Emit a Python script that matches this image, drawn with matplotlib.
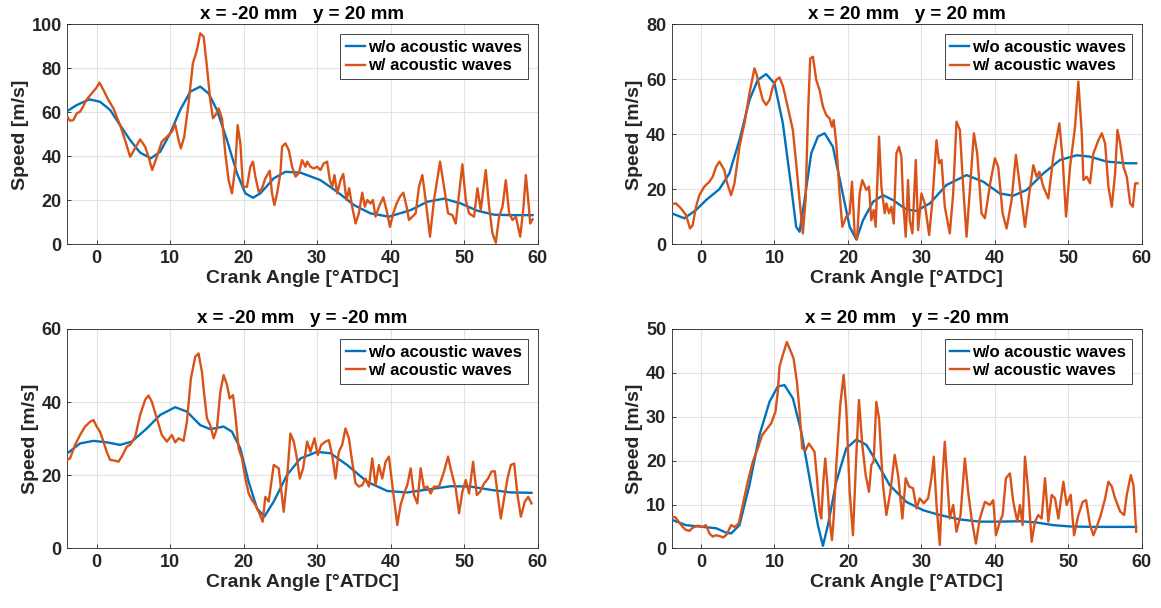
"""Speed at four probe points, with and without acoustic waves."""

import matplotlib.pyplot as plt

plt.rcParams["font.family"] = ["Liberation Sans", "DejaVu Sans"]
plt.rcParams["font.weight"] = "bold"

BLUE = "#0072BD"
ORANGE = "#D95319"
TEXT = "#262626"

# panel 1: x = -20 mm, y = 20 mm
p1_ca_wo = [-4.0, -2.73, -1.0, 0.45, 1.82, 3.18, 4.55, 5.91, 7.36, 8.64, 10.0, 11.36, 12.73,
            14.09, 15.23, 16.36, 17.73, 19.09, 20.23, 21.27, 22.27, 24.09, 25.68, 27.73, 30.45,
            32.73, 35.0, 37.27, 39.77, 42.73, 45.0, 47.27, 49.55, 51.82, 54.09, 56.36, 59.32]
p1_wo = [60.6, 63.3, 65.9, 64.8, 61.1, 54.2, 47.4, 41.7, 39.1, 42.1, 50.5, 61.1, 69.4,
         71.7, 68.6, 61.1, 47.4, 32.3, 23.2, 21.2, 23.2, 30.0, 33.0, 32.6, 29.2,
         23.9, 17.9, 14.1, 12.6, 15.6, 19.4, 20.8, 18.6, 15.3, 13.5, 13.3, 13.3]
p1_ca_w = [-4.0, -3.64, -3.18, -2.73, -2.27, -1.82, -1.36, -0.68, 0.0, 0.36, 0.91, 1.59, 2.27,
           3.18, 3.86, 4.55, 5.09, 5.91, 6.59, 7.05, 7.55, 8.18, 8.86, 9.55, 10.23, 10.68,
           11.14, 11.45, 11.91, 12.5, 13.09, 13.64, 14.09, 14.55, 15.0, 15.45, 15.82, 16.18,
           16.59, 17.05, 17.5, 17.95, 18.41, 18.86, 19.18, 19.55, 19.91, 20.45, 20.91, 21.27,
           21.59, 22.05, 22.5, 22.95, 23.55, 23.86, 24.18, 24.55, 25.0, 25.23, 25.68, 26.14,
           26.59, 27.05, 27.5, 27.95, 28.41, 28.64, 29.09, 29.55, 30.0, 30.45, 30.91, 31.36,
           31.73, 32.05, 32.36, 32.73, 33.18, 33.55, 34.0, 34.36, 34.77, 35.23, 35.68, 36.14,
           36.5, 36.82, 37.27, 37.59, 37.95, 38.41, 39.0, 39.45, 39.91, 40.36, 40.82, 41.27,
           41.73, 42.18, 42.5, 42.95, 43.41, 43.86, 44.32, 44.77, 45.36, 45.91, 46.73, 47.27,
           47.82, 48.41, 48.86, 49.32, 49.77, 50.23, 50.68, 51.36, 51.82, 52.27, 52.95, 53.41,
           53.86, 54.32, 54.77, 55.23, 55.68, 56.14, 56.59, 57.05, 57.64, 58.09, 58.41, 58.73,
           59.0, 59.32]
p1_w = [58.0, 56.2, 56.5, 59.5, 60.3, 62.9, 65.9, 68.6, 71.4, 73.5, 70.2, 65.6, 61.8,
        54.2, 47.4, 39.8, 42.9, 47.7, 44.4, 39.8, 33.8, 39.8, 46.7, 48.9, 51.2, 54.5,
        47.4, 43.6, 48.9, 64.1, 82.3, 88.3, 95.9, 94.4, 80.8, 65.6, 57.3, 58.8,
        61.8, 57.3, 41.4, 29.2, 23.2, 35.3, 54.2, 45.9, 26.2, 26.2, 35.3, 37.6,
        30.8, 23.9, 25.5, 30.0, 33.5, 23.2, 17.9, 23.2, 32.3, 44.4, 45.9, 42.9,
        35.3, 30.8, 32.3, 38.3, 35.3, 37.6, 35.3, 34.5, 35.3, 33.8, 36.8, 37.6,
        29.2, 26.2, 31.5, 23.2, 29.2, 32.0, 20.2, 25.5, 17.1, 9.5, 14.1, 23.5,
        17.1, 20.2, 18.6, 20.2, 12.6, 17.1, 21.4, 15.6, 8.0, 14.1, 18.6, 21.7,
        23.5, 17.1, 11.1, 12.6, 14.1, 26.2, 31.5, 20.2, 3.5, 20.2, 37.6, 26.2,
        14.1, 13.3, 9.5, 23.2, 36.4, 20.2, 14.1, 12.6, 25.5, 15.6, 33.8, 17.1,
        5.0, 0.8, 12.6, 17.1, 29.2, 14.1, 11.1, 12.6, 3.5, 17.1, 31.5, 20.2,
        9.5, 11.4]

# panel 2: x = 20 mm, y = 20 mm
p2_ca_wo = [-4.0, -2.27, -0.68, 0.68, 2.5, 3.86, 5.23, 6.59, 7.73, 8.86, 10.0, 11.14, 12.27,
            12.95, 13.41, 14.09, 15.0, 15.91, 16.82, 17.95, 19.09, 20.23, 21.14, 22.05, 23.41,
            24.77, 26.14, 27.95, 29.32, 31.14, 33.41, 36.14, 38.41, 40.68, 42.5, 44.32, 46.59,
            48.86, 51.14, 52.95, 55.23, 57.95, 59.23]
p2_wo = [11.3, 9.5, 12.5, 16.1, 20.1, 25.8, 37.9, 52.5, 59.8, 61.9, 58.5, 44.0, 21.0,
         6.4, 4.6, 16.1, 33.1, 39.2, 40.4, 35.5, 21.0, 6.4, 1.8, 8.8, 15.5,
         17.9, 16.1, 12.7, 12.2, 14.9, 21.6, 25.2, 22.8, 18.5, 17.7, 19.8, 25.8,
         30.7, 32.4, 31.9, 30.1, 29.5, 29.5]
p2_ca_w = [-3.95, -3.41, -2.73, -2.05, -1.5, -1.14, -0.68, -0.23, 0.45, 1.14, 1.59, 2.05, 2.5,
           3.18, 3.5, 4.09, 4.55, 5.23, 5.91, 6.59, 7.05, 7.27, 7.59, 7.95, 8.41, 8.86, 9.32,
           9.77, 10.23, 10.68, 11.14, 11.59, 12.05, 12.5, 12.95, 13.41, 13.86, 14.23, 14.55,
           14.86, 15.23, 15.68, 16.14, 16.59, 17.05, 17.5, 17.82, 18.05, 18.41, 18.86, 19.23,
           19.77, 20.23, 20.55, 20.91, 21.23, 21.59, 21.95, 22.5, 22.86, 23.18, 23.5, 23.77,
           24.23, 24.55, 25.0, 25.23, 25.59, 25.91, 26.23, 26.59, 26.95, 27.27, 27.5, 27.86,
           28.18, 28.41, 28.77, 29.23, 29.55, 30.0, 30.45, 31.05, 31.5, 32.05, 32.41, 32.73,
           33.18, 33.86, 34.32, 34.77, 35.23, 35.68, 36.14, 36.68, 37.14, 37.59, 38.18, 38.64,
           39.32, 40.0, 40.45, 41.05, 41.59, 42.27, 42.86, 43.41, 44.09, 44.68, 45.23, 45.68,
           46.05, 46.59, 47.27, 47.95, 48.77, 49.23, 49.68, 50.23, 50.91, 51.36, 51.82, 52.05,
           52.5, 52.95, 53.41, 54.09, 54.55, 55.0, 55.45, 55.91, 56.36, 56.68, 57.05, 57.5,
           57.95, 58.41, 58.77, 59.09, 59.41]
p2_w = [14.7, 14.9, 13.1, 10.7, 5.8, 7.0, 13.7, 17.9, 21.0, 22.8, 24.6, 28.2, 30.1,
        27.0, 22.8, 17.9, 22.2, 35.5, 44.0, 54.9, 61.0, 64.0, 61.6, 57.3, 52.5, 50.7, 52.5,
        57.3, 59.8, 60.7, 57.6, 52.5, 47.0, 41.6, 29.5, 16.1, 4.0, 16.1, 46.4,
        67.6, 68.2, 59.8, 56.1, 50.1, 47.0, 45.8, 42.8, 45.2, 36.7, 18.5, 6.4,
        10.1, 11.3, 22.8, 4.0, 1.8, 18.5, 23.4, 19.8, 21.0, 8.8, 12.5, 6.4,
        39.2, 21.0, 11.3, 14.9, 11.3, 13.7, 7.6, 33.1, 35.5, 31.9, 16.1, 2.8,
        23.4, 8.8, 4.0, 30.7, 5.2, 18.5, 14.9, 3.4, 16.1, 37.9, 29.5, 30.7,
        13.7, 4.0, 18.5, 44.6, 41.6, 21.0, 2.8, 23.4, 40.4, 33.1, 11.3, 9.5,
        21.6, 31.3, 28.2, 11.3, 5.8, 16.1, 32.5, 21.0, 6.4, 18.5, 28.8, 24.6,
        26.4, 21.0, 16.7, 31.9, 44.0, 30.7, 10.1, 28.2, 42.8, 59.2, 40.4, 23.4,
        24.6, 22.2, 33.1, 37.9, 40.4, 36.7, 21.0, 13.7, 25.8, 41.6, 36.7, 28.2,
        24.6, 14.9, 13.7, 22.2, 22.2]

# panel 3: x = -20 mm, y = -20 mm
p3_ca_wo = [-4.0, -2.27, -0.45, 1.36, 3.18, 4.77, 6.82, 8.64, 10.68, 12.27, 14.09, 15.45, 17.27,
            18.41, 19.55, 20.68, 21.82, 22.82, 24.09, 25.91, 27.73, 30.0, 31.82, 34.09, 36.82,
            39.55, 42.27, 45.0, 48.18, 50.91, 53.64, 56.36, 59.18]
p3_wo = [26.0, 28.7, 29.4, 29.0, 28.3, 29.2, 32.8, 36.5, 38.6, 37.4, 33.7, 32.6, 33.3,
         31.9, 27.3, 18.2, 10.9, 8.7, 12.8, 20.1, 24.6, 26.4, 26.0, 22.8, 18.2,
         15.7, 15.3, 16.1, 17.0, 16.9, 16.0, 15.3, 15.2]
p3_ca_w = [-4.0, -3.64, -2.95, -2.27, -1.59, -0.91, -0.45, 0.0, 0.45, 0.91, 1.36, 1.82, 2.5,
           2.95, 3.41, 4.09, 4.55, 5.23, 5.91, 6.59, 7.05, 7.5, 8.18, 8.86, 9.55, 10.23, 10.68,
           11.14, 11.82, 12.27, 12.82, 13.41, 13.86, 14.32, 14.64, 15.0, 15.45, 15.91, 16.36,
           16.82, 17.27, 17.73, 18.09, 18.55, 18.86, 19.32, 19.77, 20.23, 20.68, 21.14, 21.59,
           22.05, 22.59, 22.95, 23.41, 24.09, 24.77, 25.45, 25.91, 26.36, 26.82, 27.18, 27.64,
           28.09, 28.64, 29.09, 29.64, 30.09, 30.55, 31.14, 31.59, 32.05, 32.5, 32.95, 33.41,
           33.86, 34.32, 34.77, 35.23, 35.68, 36.14, 36.59, 37.05, 37.5, 37.95, 38.41, 38.86,
           39.32, 39.77, 40.23, 40.91, 41.36, 41.82, 42.27, 42.73, 43.18, 43.64, 44.09, 44.55,
           45.0, 45.45, 45.91, 46.59, 47.27, 47.82, 48.27, 48.86, 49.32, 49.77, 50.23, 50.68,
           51.23, 51.73, 52.18, 52.73, 53.27, 53.73, 54.18, 54.64, 55.0, 55.45, 55.91, 56.36,
           56.82, 57.27, 57.73, 58.27, 58.73, 59.18]
p3_w = [24.2, 24.6, 28.3, 31.0, 33.3, 34.6, 35.1, 33.3, 31.9, 29.2, 26.4, 24.2, 24.0,
        23.7, 25.1, 27.8, 28.3, 30.5, 36.5, 40.6, 41.8, 40.1, 35.6, 31.0, 29.2, 31.0, 29.0,
        30.1, 29.4, 34.6, 46.5, 52.4, 53.3, 48.3, 41.9, 35.6, 33.7, 30.1, 32.8,
        42.8, 47.4, 44.7, 41.0, 41.9, 36.5, 27.3, 24.6, 19.1, 15.0, 13.2, 11.9,
        10.0, 7.3, 14.1, 12.8, 22.8, 21.9, 10.0, 19.1, 31.4, 29.2, 25.5, 19.1,
        21.9, 29.2, 26.4, 30.1, 25.5, 28.3, 29.2, 29.6, 25.5, 19.1, 26.4, 28.3,
        32.8, 30.1, 23.7, 17.8, 16.9, 17.3, 19.1, 16.9, 24.6, 17.3, 22.8, 19.1,
        23.7, 25.1, 17.3, 6.4, 11.9, 15.0, 17.3, 21.9, 14.6, 12.3, 21.9, 16.4,
        16.9, 15.0, 16.9, 16.9, 21.0, 25.1, 21.0, 16.4, 9.6, 15.5, 18.7, 15.0,
        23.7, 14.6, 15.5, 17.8, 19.1, 21.0, 21.1, 13.7, 8.2, 13.7, 19.1, 22.8,
        23.2, 14.6, 8.7, 12.8, 14.1, 12.3]

# panel 4: x = 20 mm, y = -20 mm
p4_ca_wo = [-3.95, -2.05, 0.23, 2.05, 3.41, 4.09, 5.23, 6.59, 7.95, 9.32, 10.45, 11.36, 12.5,
            13.64, 14.77, 15.91, 16.59, 17.27, 18.41, 19.77, 21.14, 22.5, 23.86, 25.68, 27.95,
            30.23, 32.5, 35.23, 37.95, 40.68, 43.41, 45.68, 47.95, 50.23, 53.41, 56.59, 59.23]
p4_wo = [6.5, 5.3, 4.9, 4.6, 3.6, 3.4, 5.3, 14.4, 25.8, 33.4, 36.9, 37.2, 34.2,
         26.6, 16.0, 5.3, 0.6, 5.3, 15.2, 22.8, 24.8, 23.6, 19.8, 14.4, 10.6,
         8.7, 7.6, 6.6, 6.1, 6.1, 6.2, 5.9, 5.3, 5.0, 4.9, 4.9, 4.9]
p4_ca_w = [-3.95, -3.5, -3.05, -2.5, -2.05, -1.59, -1.14, -0.45, 0.23, 0.68, 1.14, 1.59, 2.05,
           2.5, 3.05, 3.5, 4.09, 4.55, 5.14, 5.68, 6.36, 7.05, 7.73, 8.32, 8.86, 9.55, 10.14,
           10.45, 10.68, 11.14, 11.68, 12.14, 12.59, 13.05, 13.41, 13.77, 14.23, 14.68, 15.14,
           15.45, 15.82, 16.14, 16.36, 16.68, 16.91, 17.23, 17.5, 17.82, 18.05, 18.41, 18.95,
           19.41, 19.77, 20.23, 20.68, 21.14, 21.5, 21.95, 22.41, 22.86, 23.18, 23.5, 23.86,
           24.23, 24.77, 25.23, 25.77, 26.36, 26.82, 27.41, 27.86, 28.32, 28.86, 29.32, 29.77,
           30.32, 30.91, 31.36, 31.68, 32.05, 32.5, 32.86, 33.18, 33.5, 33.86, 34.32, 34.77,
           35.32, 35.91, 36.36, 36.82, 37.41, 37.95, 38.64, 39.32, 39.77, 40.14, 40.68, 41.05,
           41.5, 42.05, 42.5, 43.05, 43.41, 43.77, 44.09, 44.55, 45.0, 45.45, 45.91, 46.36,
           46.82, 47.27, 47.73, 48.18, 48.64, 49.32, 49.77, 50.32, 50.77, 51.36, 51.95, 52.41,
           52.95, 53.41, 53.86, 54.41, 55.0, 55.45, 55.91, 56.36, 57.05, 57.59, 57.95, 58.5,
           58.86, 59.23]
p4_w = [7.2, 7.1, 6.1, 4.9, 4.2, 4.0, 4.7, 5.2, 4.9, 5.3, 3.4, 2.7, 3.0,
        2.8, 2.5, 3.2, 5.3, 4.9, 5.7, 9.9, 15.2, 19.8, 22.8, 25.8, 27.0, 28.5, 31.2,
        35.7, 41.4, 44.1, 47.0, 45.2, 43.3, 38.0, 31.2, 22.8, 22.4, 23.9, 22.8,
        22.0, 15.2, 8.4, 6.8, 16.0, 20.5, 13.7, 6.5, 1.9, 6.8, 19.0, 32.7,
        39.5, 31.9, 12.9, 3.0, 21.3, 33.8, 23.6, 16.7, 12.9, 19.0, 19.8, 33.4,
        29.6, 14.4, 7.6, 12.9, 21.3, 16.7, 6.8, 16.0, 14.1, 13.7, 9.1, 11.4,
        10.3, 11.4, 16.0, 20.9, 9.9, 0.8, 16.0, 24.3, 16.0, 6.8, 9.9, 3.8,
        7.6, 20.5, 12.9, 6.8, 1.1, 6.8, 10.6, 9.9, 11.0, 3.0, 6.1, 7.6,
        16.0, 17.1, 10.6, 6.1, 9.9, 5.3, 20.9, 12.9, 1.5, 6.1, 7.6, 6.8,
        16.0, 6.1, 12.2, 11.4, 6.8, 15.2, 9.9, 12.2, 3.0, 7.6, 10.6, 11.0,
        5.3, 3.0, 4.9, 7.6, 11.4, 15.2, 14.1, 11.4, 8.4, 7.6, 12.2, 16.7,
        14.4, 3.8]

titles = ["x = -20 mm   y = 20 mm", "x = 20 mm   y = 20 mm",
          "x = -20 mm   y = -20 mm", "x = 20 mm   y = -20 mm"]
y_tops = [100, 80, 60, 50]
y_steps = [20, 20, 20, 10]
x_ticks = [0, 10, 20, 30, 40, 50, 60]

panels = [
    (p1_ca_wo, p1_wo, p1_ca_w, p1_w),
    (p2_ca_wo, p2_wo, p2_ca_w, p2_w),
    (p3_ca_wo, p3_wo, p3_ca_w, p3_w),
    (p4_ca_wo, p4_wo, p4_ca_w, p4_w),
]
positions = [
    [0.058, 0.598, 0.405, 0.362],
    [0.5785, 0.598, 0.405, 0.362],
    [0.058, 0.098, 0.405, 0.361],
    [0.5785, 0.098, 0.405, 0.361],
]

fig = plt.figure(figsize=(11.61, 6.08), dpi=100)
for (ca_wo, wo, ca_w, w), pos, title, ytop, ystep in zip(panels, positions, titles, y_tops, y_steps):
    ax = fig.add_axes(pos)
    ax.plot(ca_wo, wo, color=BLUE, lw=1.7, label="w/o acoustic waves", zorder=3)
    ax.plot(ca_w, w, color=ORANGE, lw=1.7, label="w/ acoustic waves", zorder=3)
    ax.set_xlim(-4, 60)
    ax.set_ylim(0, ytop)
    ax.set_xticks(x_ticks)
    ax.set_yticks(range(0, ytop + 1, ystep))
    ax.grid(True, color="#e3e3e3", lw=0.8)
    ax.set_axisbelow(True)
    ax.tick_params(direction="in", length=3, width=0.6, colors=TEXT, labelsize=13, pad=4)
    for label in ax.get_xticklabels() + ax.get_yticklabels():
        label.set_fontweight("bold")
    for spine in ax.spines.values():
        spine.set_color("#262626")
        spine.set_linewidth(0.6)
    ax.set_title(title, fontsize=13.5, fontweight="bold", color="black", pad=4)
    ax.set_xlabel("Crank Angle [°ATDC]", fontsize=14, fontweight="bold", color=TEXT, labelpad=2)
    ax.set_ylabel("Speed [m/s]", fontsize=14, fontweight="bold", color=TEXT, labelpad=2)
    leg = ax.legend(loc="upper right", fontsize=12, handlelength=1.1, handletextpad=0.2,
                    borderpad=0.35, labelspacing=0.2, fancybox=False, framealpha=1,
                    borderaxespad=0.6)
    leg.get_frame().set_edgecolor("#262626")
    leg.get_frame().set_linewidth(0.6)
    for txt in leg.get_texts():
        txt.set_fontweight("bold")

fig.savefig("out.png", dpi=100, facecolor="white")
